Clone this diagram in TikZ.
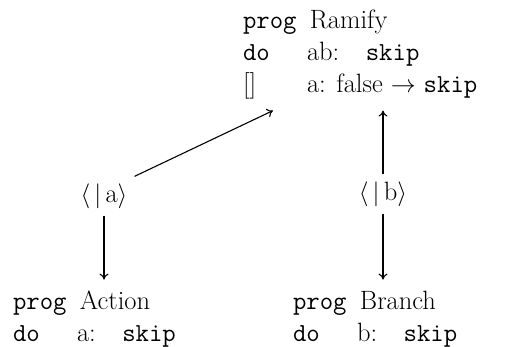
\documentclass[tikz,border=0pt]{standalone}
\usepackage{fontspec}
\usepackage{tikz}
\usetikzlibrary{arrows.meta}
\newcommand\kw[1]{{\fontsize{26}{32}\selectfont\ttfamily #1}}
\tikzset{
  flow/.style={-{To[length=6pt,width=9pt]},line width=1.1pt},
  progbox/.style={inner sep=0pt,outer xsep=0pt,outer ysep=8pt,anchor=base west,
                  font=\fontsize{26.5}{32}\selectfont},
  refine/.style={inner sep=7pt,font=\fontsize{26.5}{32}\selectfont},
}

\begin{document}
\begin{tikzpicture}[x=1pt,y=1pt]
    \useasboundingbox (0,0) rectangle (508,347);
    \node[progbox] (ramify) at (243,318) {\begin{tabular}[t]{@{}p{64pt}@{}l@{}}
        \multicolumn{2}{@{}l@{}}{\kw{prog }Ramify}\\
        \kw{do} & ab:\quad\kw{skip}\\
        {[]} & a: false $\rightarrow$ \kw{skip}
      \end{tabular}};
    \node[progbox] (action) at (13,37) {\begin{tabular}[t]{@{}p{64pt}@{}l@{}}
        \multicolumn{2}{@{}l@{}}{\kw{prog }Action}\\
        \kw{do} & a:\quad\kw{skip}
      \end{tabular}};
    \node[progbox] (branch) at (293,37) {\begin{tabular}[t]{@{}p{64pt}@{}l@{}}
        \multicolumn{2}{@{}l@{}}{\kw{prog }Branch}\\
        \kw{do} & b:\quad\kw{skip}
      \end{tabular}};
    \node[refine] (pa) at (104,151) {$\langle\,|\,\mathrm{a}\rangle$};
    \node[refine] (pb) at (383,153) {$\langle\,|\,\mathrm{b}\rangle$};
    \draw[flow] (pa.north east) -- ([xshift=30pt]ramify.south west);
    \draw[flow] (pa.south) -- (pa.south |- action.north);
    \draw[flow] (pb.north) -- (pb.north |- ramify.south);
    \draw[flow] (pb.south) -- (pb.south |- branch.north);
  \end{tikzpicture}
\end{document}
